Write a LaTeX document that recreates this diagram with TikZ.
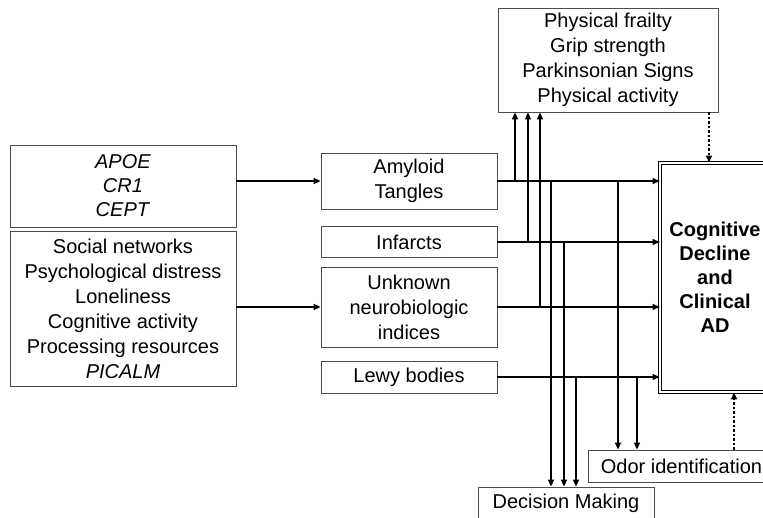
\documentclass[tikz,border=0pt]{standalone}
\usepackage{fontspec}
\setmainfont{Liberation Sans}
\usetikzlibrary{arrows.meta,positioning,calc}
\tikzset{
  >={Triangle[length=7pt,width=6pt]},
  box/.style={draw=black!70,line width=0.8pt,align=center,inner sep=2pt,font=\fontsize{20}{25}\selectfont},
  arr/.style={->,line width=1.6pt},
  dots/.style={->,line width=1.6pt,dash pattern=on 2.5pt off 2pt},
  outcome/.style={draw,double,line width=0.9pt,double distance=1.6pt,align=center,font=\bfseries\fontsize{20}{24}\selectfont}
}
\begin{document}
\begin{tikzpicture}[x=1pt,y=-1pt]
\useasboundingbox (0,0) rectangle (763,518);
% left inputs
\node[box,minimum width=226pt,minimum height=82pt,font=\fontsize{20}{24}\selectfont](genes) at (123,186){\textit{APOE}\\\textit{CR1}\\\textit{CEPT}};
\node[box,minimum width=226pt,minimum height=155pt](social) at (123,308.5){Social networks\\Psychological distress\\Loneliness\\Cognitive activity\\Processing resources\\\textit{PICALM}};
% pathology
\node[box,minimum width=176pt,minimum height=56pt](amy) at (409,181){Amyloid\\Tangles};
\node[box,minimum width=176pt,minimum height=31pt](inf) at (409,242){Infarcts};
\node[box,minimum width=176pt,minimum height=80pt](unk) at (409,307){Unknown\\neurobiologic\\indices};
\node[box,minimum width=176pt,minimum height=32pt](lewy) at (409,377){Lewy bodies};
% outcomes
\node[box,minimum width=220pt,minimum height=104pt](phys) at (608,60){Physical frailty\\Grip strength\\Parkinsonian Signs\\Physical activity};
\node[outcome,minimum width=110pt,minimum height=229pt](cogad) at (715,277.5){Cognitive\\Decline\\and\\Clinical\\AD};
\node[box,minimum width=187pt,minimum height=32pt](odor) at (681.5,466){Odor identification};
\node[box,minimum width=176pt,minimum height=32pt](dec) at (566,503){Decision Making};
% vertical lanes
\coordinate (u1) at (515,0);\coordinate (u2) at (528,0);\coordinate (u3) at (540,0);
\coordinate (d1) at (551,0);\coordinate (d2) at (564,0);\coordinate (d3) at (576,0);
\coordinate (o1) at (618,0);\coordinate (o2) at (637,0);
\coordinate (p1) at (709,0);\coordinate (q1) at (734,0);
\draw[arr](genes.east |- amy)--(amy.west);
\draw[arr](social.east |- unk)--(unk.west);
\foreach \n in {amy,inf,unk,lewy}
  \draw[arr](\n.east)--(\n.east -| cogad.west);
\draw[arr](u1 |- amy.east)--(u1 |- phys.south);
\draw[arr](u2 |- inf.east)--(u2 |- phys.south);
\draw[arr](u3 |- unk.east)--(u3 |- phys.south);
\draw[arr](d1 |- amy.east)--(d1 |- dec.north);
\draw[arr](d2 |- inf.east)--(d2 |- dec.north);
\draw[arr](d3 |- lewy.east)--(d3 |- dec.north);
\draw[arr](o1 |- amy.east)--(o1 |- odor.north);
\draw[arr](o2 |- lewy.east)--(o2 |- odor.north);
\draw[dots](p1 |- phys.south)--(p1 |- cogad.north);
\draw[dots](q1 |- odor.north)--(q1 |- cogad.south);
\end{tikzpicture}
\end{document}
